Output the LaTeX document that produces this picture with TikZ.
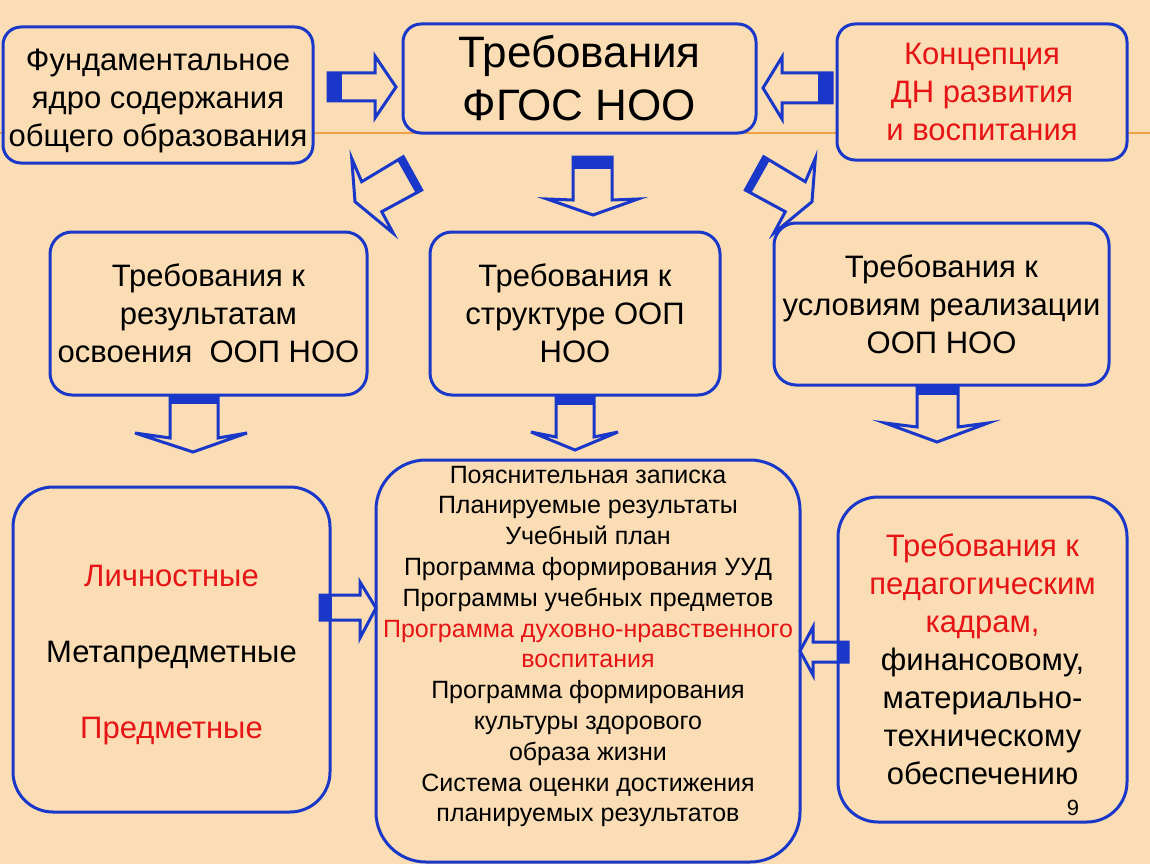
\documentclass[tikz,border=0pt]{standalone}
\usepackage{fontspec}
\setmainfont{Liberation Sans}
\definecolor{bg}{RGB}{250,221,181}
\definecolor{bblue}{RGB}{25,55,200}
\definecolor{rred}{RGB}{230,20,20}
\definecolor{oline}{RGB}{240,160,70}
\begin{document}
\begin{tikzpicture}[x=1pt,y=-1pt,
  box/.style={draw=bblue, line width=3pt, fill=bg, rounded corners=#1, inner sep=0pt, align=center},
  bigf/.style={font=\fontsize{44}{53}\selectfont},
  midf/.style={font=\fontsize{31}{38}\selectfont},
  listf/.style={font=\fontsize{25}{30.8}\selectfont},
  blk/.style={draw=bblue, line width=3pt, line join=miter},
  band/.style={fill=bblue}]
\useasboundingbox (0,0) rectangle (1150,864);
\fill[bg] (0,0) rectangle (1150,864);
\draw[oline, line width=1.5pt] (0,133) -- (1150,133);

% top row
\node[box=18pt, midf, minimum width=310pt, minimum height=136pt] (fund) at (158,95) {};
\node[midf, align=center, inner sep=0pt] (fundtext) at (158,101)
  {Фундаментальное\\ядро содержания\\общего образования};
\node[box=18pt, bigf, minimum width=353pt, minimum height=109pt] (fgos) at (579.5,78.5)
  {Требования\\ФГОС НОО};
\node[box=18pt, midf, text=rred, minimum width=290pt, minimum height=136pt] (konc) at (982,92)
  {Концепция\\ДН развития\\и воспитания};

% middle row
\node[box=22pt, midf, minimum width=317pt, minimum height=163pt] (res) at (208.5,313.5)
  {Требования к\\результатам\\освоения\ \ ООП НОО};
\node[box=22pt, midf, minimum width=290pt, minimum height=163pt] (str) at (575,313.5)
  {Требования к\\структуре ООП\\НОО};
\node[box=22pt, midf, minimum width=335pt, minimum height=162pt] (usl) at (941.5,304)
  {Требования к\\условиям реализации\\ООП НОО};

% bottom row
\node[box=40pt, minimum width=317pt, minimum height=325pt] (lich) at (171.5,649.5) {};
\node[midf, align=center, inner sep=0pt] (lichtext) at (171.5,655.5)
  {\textcolor{rred}{Личностные}\\[38pt]Метапредметные\\[38pt]\textcolor{rred}{Предметные}};
\node[box=50pt, minimum width=424pt, minimum height=402pt] (oop) at (588,661) {};
\node[listf, align=center, inner sep=0pt] (ooptext) at (588,646.5)
  {Пояснительная записка\\Планируемые результаты\\Учебный план\\Программа формирования УУД\\Программы учебных предметов\\
   \textcolor{rred}{Программа духовно-нравственного}\\\textcolor{rred}{воспитания}\\Программа формирования\\культуры здорового\\образа жизни\\
   Система оценки достижения\\планируемых результатов};
\node[box=40pt, midf, minimum width=289pt, minimum height=325pt] (kadr) at (982.5,659.5)
  {\textcolor{rred}{Требования к}\\\textcolor{rred}{педагогическим}\\\textcolor{rred}{кадрам,}\\финансовому,\\материально-\\техническому\\обеспечению};
\node[font=\fontsize{22}{26}\selectfont, inner sep=0pt] (pnum) at (1073,808) {9};

% arrows top
\draw[blk] (328,73) -- (375,73) -- (375,56) -- (396,87) -- (375,118) -- (375,101) -- (328,101) -- cycle;
\fill[band] (328,73) rectangle (342,101);
\draw[blk] (832,73) -- (782,73) -- (782,57) -- (763,88) -- (782,119) -- (782,103) -- (832,103) -- cycle;
\fill[band] (818,73) rectangle (832,103);
\draw[blk] (573,157) -- (612,157) -- (612,200) -- (638,199) -- (593,215) -- (547,199) -- (573,200) -- cycle;
\fill[band] (573,157) rectangle (612,169);
% diagonal arrows
\draw[blk] (351.7,158.3) -- (361.7,181.7) -- (403.3,156.7) -- (421.7,190) -- (381.7,211.7) -- (393.3,233.3) -- (355,201.7) -- cycle;
\fill[band] (403.3,156.7) -- (421.7,190) -- (415.9,193.4) -- (397.3,160.4) -- cycle;
\draw[blk] (815.3,158.3) -- (805.3,181.7) -- (763.7,156.7) -- (745.3,190) -- (785.3,211.7) -- (773.7,233.3) -- (812,201.7) -- cycle;
\fill[band] (763.7,156.7) -- (745.3,190) -- (751.1,193.4) -- (769.7,160.4) -- cycle;
% arrows middle
\draw[blk] (170,395) -- (170,438) -- (135,433) -- (193,452) -- (247,433) -- (218,438) -- (218,395);
\fill[band] (170,395) rectangle (218,404);
\draw[blk] (556,395) -- (556,437) -- (531,432) -- (575,450) -- (618,432) -- (594,437) -- (594,395);
\fill[band] (556,395) rectangle (594,405);
\draw[blk] (917,385) -- (917,427) -- (885,423) -- (937,442) -- (988,423) -- (958,427) -- (958,385);
\fill[band] (917,385) rectangle (958,395);
% arrows bottom
\draw[blk] (320,595) -- (360,595) -- (360,582) -- (376,608) -- (360,638) -- (360,620) -- (320,620) -- cycle;
\fill[band] (320,595) rectangle (332,620);
\draw[blk] (848,642) -- (813,642) -- (813,627) -- (800,651) -- (813,675) -- (813,662) -- (848,662) -- cycle;
\fill[band] (838,642) rectangle (848,662);
\end{tikzpicture}
\end{document}
